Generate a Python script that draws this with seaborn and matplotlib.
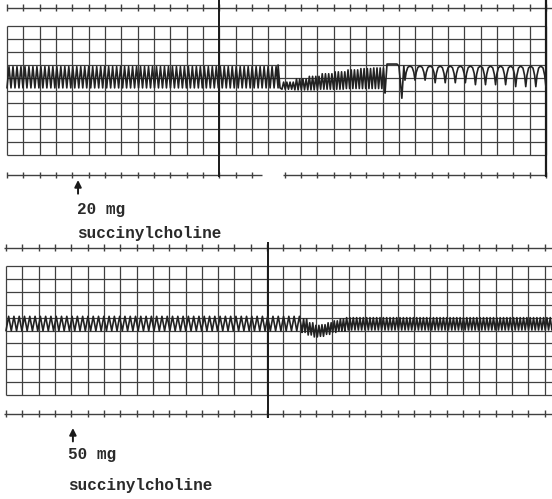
import numpy as np
import pandas as pd
import matplotlib
matplotlib.use("Agg")
import matplotlib.pyplot as plt
import seaborn as sns

# ---------------- data (grid units: x = chart divisions, y = chart rows) -------------
# Top recording (20 mg succinylcholine)
top_a_x = [0.0, 16.6]
top_a_peak = [6.85]
top_a_trough = [5.2]
top_a_reps = [68]

top_spike_x = [16.6, 16.72]
top_spike_y = [6.98, 5.2]

top_b_x = [16.84, 23.15]
top_b_peak = [5.65, 5.9, 6.1, 6.3, 6.45, 6.6, 6.7, 6.75]
top_b_trough = [5.1, 5.05, 5.05, 5.1, 5.1, 5.15, 5.15, 5.15]
top_b_reps = [4, 4, 4, 4, 4, 4, 4, 4]

top_event_x = [23.15, 23.27, 23.88, 24.0, 24.18, 24.3]
top_event_y = [4.8, 7.05, 7.05, 6.9, 4.4, 6.9]

top_c_x = [24.37, 33.0]
top_c_peak = [6.9, 6.9, 6.9, 6.9]
top_c_trough = [5.8, 5.6, 5.45, 5.3]
top_c_reps = [3, 4, 4, 3]
u_shape_pos = [0.0, 0.12, 0.28, 0.5, 0.72, 0.88]
u_shape_w = [0.0, 0.55, 0.9, 1.0, 0.9, 0.55]

# Bottom recording (50 mg succinylcholine)
bot_a_x = [0.0, 18.14]
bot_a_peak = [6.1]
bot_a_trough = [4.98]
bot_a_reps = [56]

bot_b_x = [18.14, 20.77]
bot_b_peak = [5.9, 5.6, 5.4, 5.45, 5.6, 5.75, 5.9]
bot_b_trough = [4.85, 4.65, 4.5, 4.55, 4.7, 4.85, 4.95]
bot_b_reps = [2, 2, 2, 2, 2, 2, 2]

bot_c_x = [20.77, 33.45]
bot_c_peak = [6.0]
bot_c_trough = [5.04]
bot_c_reps = [62]

top_label = ["20 mg", "succinylcholine"]
bot_label = ["50 mg", "succinylcholine"]


def zigzag(xr, peaks, troughs, reps):
    pk = np.repeat(peaks, reps)
    tr = np.repeat(troughs, reps)
    n = len(pk)
    xs = np.linspace(xr[0], xr[1], 2 * n + 1)
    ys = np.empty(2 * n + 1)
    ys[0:-1:2] = tr
    ys[-1] = tr[-1]
    ys[1::2] = pk
    return xs, ys


def ushape(xr, peaks, troughs, reps):
    pk = np.repeat(peaks, reps)
    tr = np.repeat(troughs, reps)
    n = len(pk)
    edges = np.linspace(xr[0], xr[1], n + 1)
    xs, ys = [], []
    for i in range(n):
        w = edges[i + 1] - edges[i]
        for p, f in zip(u_shape_pos, u_shape_w):
            xs.append(edges[i] + p * w)
            ys.append(tr[i] + (pk[i] - tr[i]) * f)
    xs.append(edges[-1])
    ys.append(tr[-1])
    return np.array(xs), np.array(ys)


parts = []
for xs, ys in [zigzag(top_a_x, top_a_peak, top_a_trough, top_a_reps),
               (np.array(top_spike_x), np.array(top_spike_y)),
               zigzag(top_b_x, top_b_peak, top_b_trough, top_b_reps),
               (np.array(top_event_x), np.array(top_event_y)),
               ushape(top_c_x, top_c_peak, top_c_trough, top_c_reps)]:
    parts.append(pd.DataFrame({"x": xs, "y": ys}))
top_df = pd.concat(parts, ignore_index=True)

parts = []
for xs, ys in [zigzag(bot_a_x, bot_a_peak, bot_a_trough, bot_a_reps),
               zigzag(bot_b_x, bot_b_peak, bot_b_trough, bot_b_reps),
               zigzag(bot_c_x, bot_c_peak, bot_c_trough, bot_c_reps)]:
    parts.append(pd.DataFrame({"x": xs, "y": ys}))
bot_df = pd.concat(parts, ignore_index=True)

# ---------------- styling ----------------
sns.set_theme(style="white")
plt.rcParams["font.family"] = ["Liberation Mono", "DejaVu Sans"]

W, H = 552, 499
fig = plt.figure(figsize=(W / 100, H / 100), dpi=100)
fig.patch.set_facecolor("white")

GRID_C = "#404040"
TRACE_C = "#222222"
TEXT_C = "#2a2a2a"


def make_axes(x0_px, col_px, ybot_px, row_px):
    ax = fig.add_axes([0, 0, 1, 1])
    ax.set_xlim(-x0_px / col_px, (W - x0_px) / col_px)
    from_bottom = H - ybot_px
    ax.set_ylim(-from_bottom / row_px, (H - from_bottom) / row_px)
    ax.axis("off")
    ax.patch.set_alpha(0)
    return ax


def draw_grid(ax, ncol, xright):
    for i in range(11):
        ax.hlines(i, 0, xright, color=GRID_C, lw=0.9)
    for j in range(ncol + 1):
        ax.vlines(j, 0, 10, color=GRID_C, lw=0.9)


def tick_strip(ax, y, segments, ticks):
    for a, b in segments:
        ax.hlines(y, a, b, color=GRID_C, lw=1.0)
    ax.vlines(ticks, y - 0.27, y + 0.27, color=GRID_C, lw=1.0)


# ----- top panel -----
ax1 = make_axes(7, 16.33, 155, 12.9)
draw_grid(ax1, 33, 33)
tick_strip(ax1, 11.4, [(0, 34)], np.arange(0, 34))
tick_strip(ax1, -1.55, [(0, 15.6), (16.9, 33)],
           [j for j in range(0, 34) if not (15.6 < j < 16.9)])
ax1.vlines(13, -1.7, 12.1, color="#1a1a1a", lw=1.4)
ax1.vlines(33, -1.7, 12.1, color="#1a1a1a", lw=1.6)
sns.lineplot(data=top_df, x="x", y="y", sort=False, estimator=None,
             color=TRACE_C, lw=1.2, ax=ax1)
ax1.annotate("", xy=(4.35, -1.94), xytext=(4.35, -3.0),
             arrowprops=dict(arrowstyle="-|>", color="#1a1a1a", lw=1.4,
                             mutation_scale=10, shrinkA=0, shrinkB=0))
ax1.text(4.29, -4.26, top_label[0], fontsize=11.5, va="center", ha="left",
         color=TEXT_C, fontweight="bold")
ax1.text(4.29, -6.05, top_label[1], fontsize=11.5, va="center", ha="left",
         color=TEXT_C, fontweight="bold")
ax1.set_xlabel("")
ax1.set_ylabel("")

# ----- bottom panel -----
ax2 = make_axes(6, 16.32, 395, 12.9)
draw_grid(ax2, 33, 34)
tick_strip(ax2, 11.4, [(-0.1, 34)], np.arange(0, 34))
tick_strip(ax2, -1.47, [(-0.1, 34)], np.arange(0, 34))
ax2.vlines(16.05, -1.78, 11.86, color="#1a1a1a", lw=1.4)
sns.lineplot(data=bot_df, x="x", y="y", sort=False, estimator=None,
             color=TRACE_C, lw=1.2, ax=ax2)
ax2.annotate("", xy=(4.1, -2.56), xytext=(4.1, -3.6),
             arrowprops=dict(arrowstyle="-|>", color="#1a1a1a", lw=1.4,
                             mutation_scale=10, shrinkA=0, shrinkB=0))
ax2.text(3.8, -4.65, bot_label[0], fontsize=11.5, va="center", ha="left",
         color=TEXT_C, fontweight="bold")
ax2.text(3.8, -6.98, bot_label[1], fontsize=11.5, va="center", ha="left",
         color=TEXT_C, fontweight="bold")
ax2.set_xlabel("")
ax2.set_ylabel("")

fig.savefig("out.png", dpi=100, facecolor="white")
